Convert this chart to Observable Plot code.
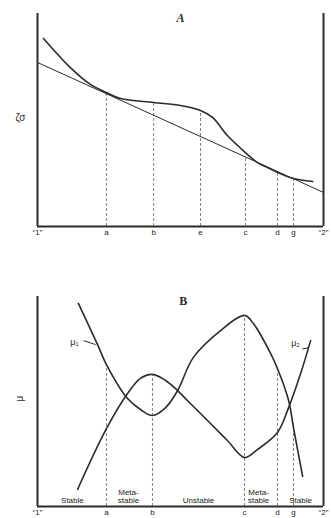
<!DOCTYPE html>
<html>
<head>
<meta charset="utf-8">
<script src="https://cdn.jsdelivr.net/npm/d3@7"></script>
<script src="https://cdn.jsdelivr.net/npm/@observablehq/plot@0.6"></script>
<style>
  html, body { margin: 0; padding: 0; background: #fff; }
  #chart svg { display: block; }
</style>
</head>
<body>
<div id="chart"></div>
<script>
// ---- Panel A data (composition 0 = "1", 100 = "2") ----
const tickPosA = [0, 24.1, 40.6, 57, 72.7, 83.9, 89.5, 100];
const tickLabA = ["“1”", "a", "b", "e", "c", "d", "g", "“2”"];
const gX = [2.1, 11.5, 18.5, 24.1, 29.0, 40.6, 50.0, 57.0, 61.2, 66.4, 72.7, 76.9, 80.4, 83.9, 89.5, 96.2];
const gY = [88.3, 74.6, 66.7, 62.9, 60.1, 58.2, 56.8, 54.5, 51.2, 42.7, 34.7, 30.0, 27.7, 25.4, 22.5, 21.1];
const tanX = [0, 100];
const tanY = [77.0, 16.0];
const dashXA = [24.1, 40.6, 57, 72.7, 83.9, 89.5];
const dashTopA = [62.9, 58.2, 54.5, 32.7, 25.4, 22.4];

// ---- Panel B data ----
const tickPosB = [0, 24.1, 40.2, 72.4, 83.9, 89.5, 100];
const tickLabB = ["“1”", "a", "b", "c", "d", "g", "“2”"];
const mu1X = [14.3, 21.0, 24.1, 31.5, 36.0, 40.2, 44.8, 49.0, 54.5, 64.0, 72.4, 75.5, 81.5, 83.9, 87.8, 89.5, 92.7];
const mu1Y = [96.7, 77.1, 67.6, 51.4, 46.2, 43.3, 47.1, 55.2, 71.0, 83.8, 91.0, 87.1, 72.9, 65.7, 50.5, 37.6, 14.3];
const mu2X = [14.0, 24.1, 31.5, 36.0, 40.2, 44.8, 49.0, 52.4, 60.5, 66.4, 72.4, 76.9, 83.9, 87.8, 92.0, 95.5];
const mu2Y = [8.1, 37.1, 53.8, 61.0, 62.9, 60.0, 55.2, 50.5, 39.5, 31.4, 23.3, 27.1, 35.2, 47.1, 63.3, 79.0];
const dashXB = [24.1, 40.2, 72.4, 83.9, 89.5];
const dashTopB = [67.6, 62.9, 91.0, 65.7, 40.0];
const regionX = [12.2, 31.8, 56.3, 77.3, 92.0];
const regionLab = ["Stable", "Meta-\nstable", "Unstable", "Meta-\nstable", "Stable"];

const ink = "#2b2b2b";
const font = "Liberation Sans, Arial, sans-serif";
const zip = (xs, ys) => xs.map((x, i) => ({x, y: ys[i]}));

// ---------- Panel A ----------
const labMapA = new Map(tickPosA.map((p, i) => [p, tickLabA[i]]));
const plotA = Plot.plot({
  width: 331, height: 245,
  marginLeft: 37, marginRight: 8, marginTop: 13, marginBottom: 19,
  style: {fontFamily: font, background: "#fff", color: "#222"},
  x: {domain: [0, 100], axis: null},
  y: {domain: [0, 100], axis: null},
  marks: [
    Plot.ruleX(zip(dashXA, dashTopA), {x: "x", y1: 0, y2: "y", stroke: "#666", strokeWidth: 0.8, strokeDasharray: "3,2"}),
    Plot.line(zip(tanX, tanY), {x: "x", y: "y", stroke: ink, strokeWidth: 1}),
    Plot.line(zip(gX, gY), {x: "x", y: "y", stroke: ink, strokeWidth: 1.6, curve: "catmull-rom"}),
    Plot.ruleX([0, 100], {y1: 0, y2: 100, stroke: ink, strokeWidth: 2}),
    Plot.ruleY([0], {stroke: ink, strokeWidth: 2}),
    Plot.axisX(tickPosA, {tickSize: 0, tickPadding: 3, fontSize: 8, label: null, tickFormat: d => labMapA.get(d)}),
    Plot.text(["A"], {x: 50, y: 97.6, text: d => d, fontSize: 12, fontWeight: "bold", fontStyle: "italic", fontFamily: "Liberation Serif, serif", fill: ink}),
    Plot.text(["ζσ"], {frameAnchor: "left", dx: -22, dy: -2, text: d => d, fontSize: 10, fill: ink})
  ]
});

// ---------- Panel B ----------
const labMapB = new Map(tickPosB.map((p, i) => [p, tickLabB[i]]));
const plotB = Plot.plot({
  width: 331, height: 273,
  marginLeft: 37, marginRight: 8, marginTop: 51, marginBottom: 12,
  style: {fontFamily: font, background: "#fff", color: "#222"},
  x: {domain: [0, 100], axis: null},
  y: {domain: [0, 100], axis: null},
  marks: [
    Plot.ruleX(zip(dashXB, dashTopB), {x: "x", y1: 0, y2: "y", stroke: "#666", strokeWidth: 0.8, strokeDasharray: "3,2"}),
    Plot.line(zip(mu1X, mu1Y), {x: "x", y: "y", stroke: ink, strokeWidth: 1.6, curve: "catmull-rom"}),
    Plot.line(zip(mu2X, mu2Y), {x: "x", y: "y", stroke: ink, strokeWidth: 1.6, curve: "catmull-rom"}),
    Plot.ruleX([0, 100], {y1: 0, y2: 100, stroke: ink, strokeWidth: 2}),
    Plot.ruleY([0], {stroke: ink, strokeWidth: 2}),
    Plot.axisX(tickPosB, {tickSize: 0, tickPadding: 3, fontSize: 8, label: null, tickFormat: d => labMapB.get(d)}),
    Plot.text(regionLab, {x: (d, i) => regionX[i], y: 1.5, text: d => d, lineAnchor: "bottom", lineHeight: 1.05, fontSize: 8, fill: "#222"}),
    Plot.text(["B"], {x: 51, y: 97.6, text: d => d, fontSize: 12, fontWeight: "bold", fontFamily: "Liberation Serif, serif", fill: ink}),
    Plot.text(["μ₁"], {x: 12.9, y: 78.1, text: d => d, fontSize: 9, fill: ink}),
    Plot.link([{x1: 16.1, y1: 79.0, x2: 20.3, y2: 77.1}], {x1: "x1", y1: "y1", x2: "x2", y2: "y2", stroke: ink, strokeWidth: 1}),
    Plot.text(["μ₂"], {x: 90.2, y: 77.6, text: d => d, fontSize: 9, fill: ink}),
    Plot.link([{x1: 92.6, y1: 75.0, x2: 94.6, y2: 75.6}], {x1: "x1", y1: "y1", x2: "x2", y2: "y2", stroke: ink, strokeWidth: 1}),
    Plot.text(["μ"], {frameAnchor: "left", dx: -18, rotate: -90, text: d => d, fontSize: 10, fill: ink})
  ]
});

const el = document.getElementById("chart");
el.append(plotA, plotB);
</script>
</body>
</html>
